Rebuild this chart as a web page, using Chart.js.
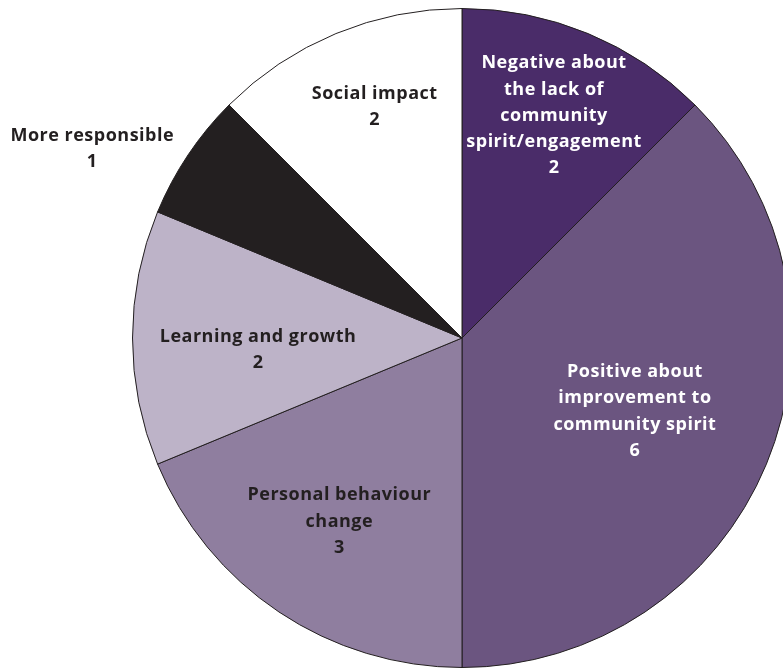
<!DOCTYPE html>
<html>
<head>
<meta charset="utf-8">
<script src="https://cdn.jsdelivr.net/npm/chart.js@4/dist/chart.umd.min.js"></script>
<style>
  html, body { margin: 0; padding: 0; background: #fff; overflow: hidden; }
  #wrap { position: relative; width: 783px; height: 668px; overflow: hidden; }
  canvas { position: absolute; left: 0; top: 0; }
</style>
</head>
<body>
<div id="wrap"><canvas id="pieChart" width="792" height="668"></canvas></div>
<script>
// Responses by theme
const labels = [
  ['Negative about', 'the lack of', 'community', 'spirit/engagement'],
  ['Positive about', 'improvement to', 'community spirit'],
  ['Personal behaviour', 'change'],
  ['Learning and growth'],
  ['More responsible'],
  ['Social impact']
];
const counts = [2, 6, 3, 2, 1, 2];

const sliceColors = ['#4a2c69', '#6b5580', '#8f7e9f', '#bdb3c8', '#231f20', '#ffffff'];
const textColors = ['#ffffff', '#ffffff', '#231f20', '#231f20', '#231f20', '#231f20'];
// label placement: fraction of radius, and angle nudge (degrees) from the slice middle
const labelRadius = [0.73, 0.57, 0.67, 0.62, 1.26, 0.75];
const labelNudge = [0, 0.5, 0, -3.4, -6.7, 1.8];

const sliceLabels = {
  id: 'sliceLabels',
  afterDatasetsDraw(chart) {
    const ctx = chart.ctx;
    const meta = chart.getDatasetMeta(0);
    ctx.save();
    ctx.font = 'bold 18px "Open Sans"';
    ctx.letterSpacing = '0.5px';
    ctx.textAlign = 'center';
    ctx.textBaseline = 'middle';
    meta.data.forEach((arc, i) => {
      const p = arc.getProps(['x', 'y', 'startAngle', 'endAngle', 'outerRadius'], true);
      const a = (p.startAngle + p.endAngle) / 2 + labelNudge[i] * Math.PI / 180;
      const r = p.outerRadius * labelRadius[i];
      const cx = p.x + Math.cos(a) * r;
      const cy = p.y + Math.sin(a) * r;
      const lines = labels[i].concat([String(counts[i])]);
      const lh = 26.3;
      const y0 = cy - (lines.length - 1) * lh / 2;
      ctx.fillStyle = textColors[i];
      lines.forEach((t, k) => ctx.fillText(t, cx, y0 + k * lh));
    });
    ctx.restore();
  }
};

const pieCtx = document.getElementById('pieChart').getContext('2d');
const pieChart = new Chart(pieCtx, {
  type: 'pie',
  data: {
    labels: labels.map(l => l.join(' ')),
    datasets: [{
      data: counts,
      backgroundColor: sliceColors,
      borderColor: '#231f20',
      borderWidth: 1
    }]
  },
  options: {
    responsive: false,
    animation: false,
    layout: { padding: { left: 132, right: 0, top: 8, bottom: 0 } },
    plugins: {
      legend: { display: false },
      tooltip: { enabled: false }
    }
  },
  plugins: [sliceLabels]
});
</script>
</body>
</html>
